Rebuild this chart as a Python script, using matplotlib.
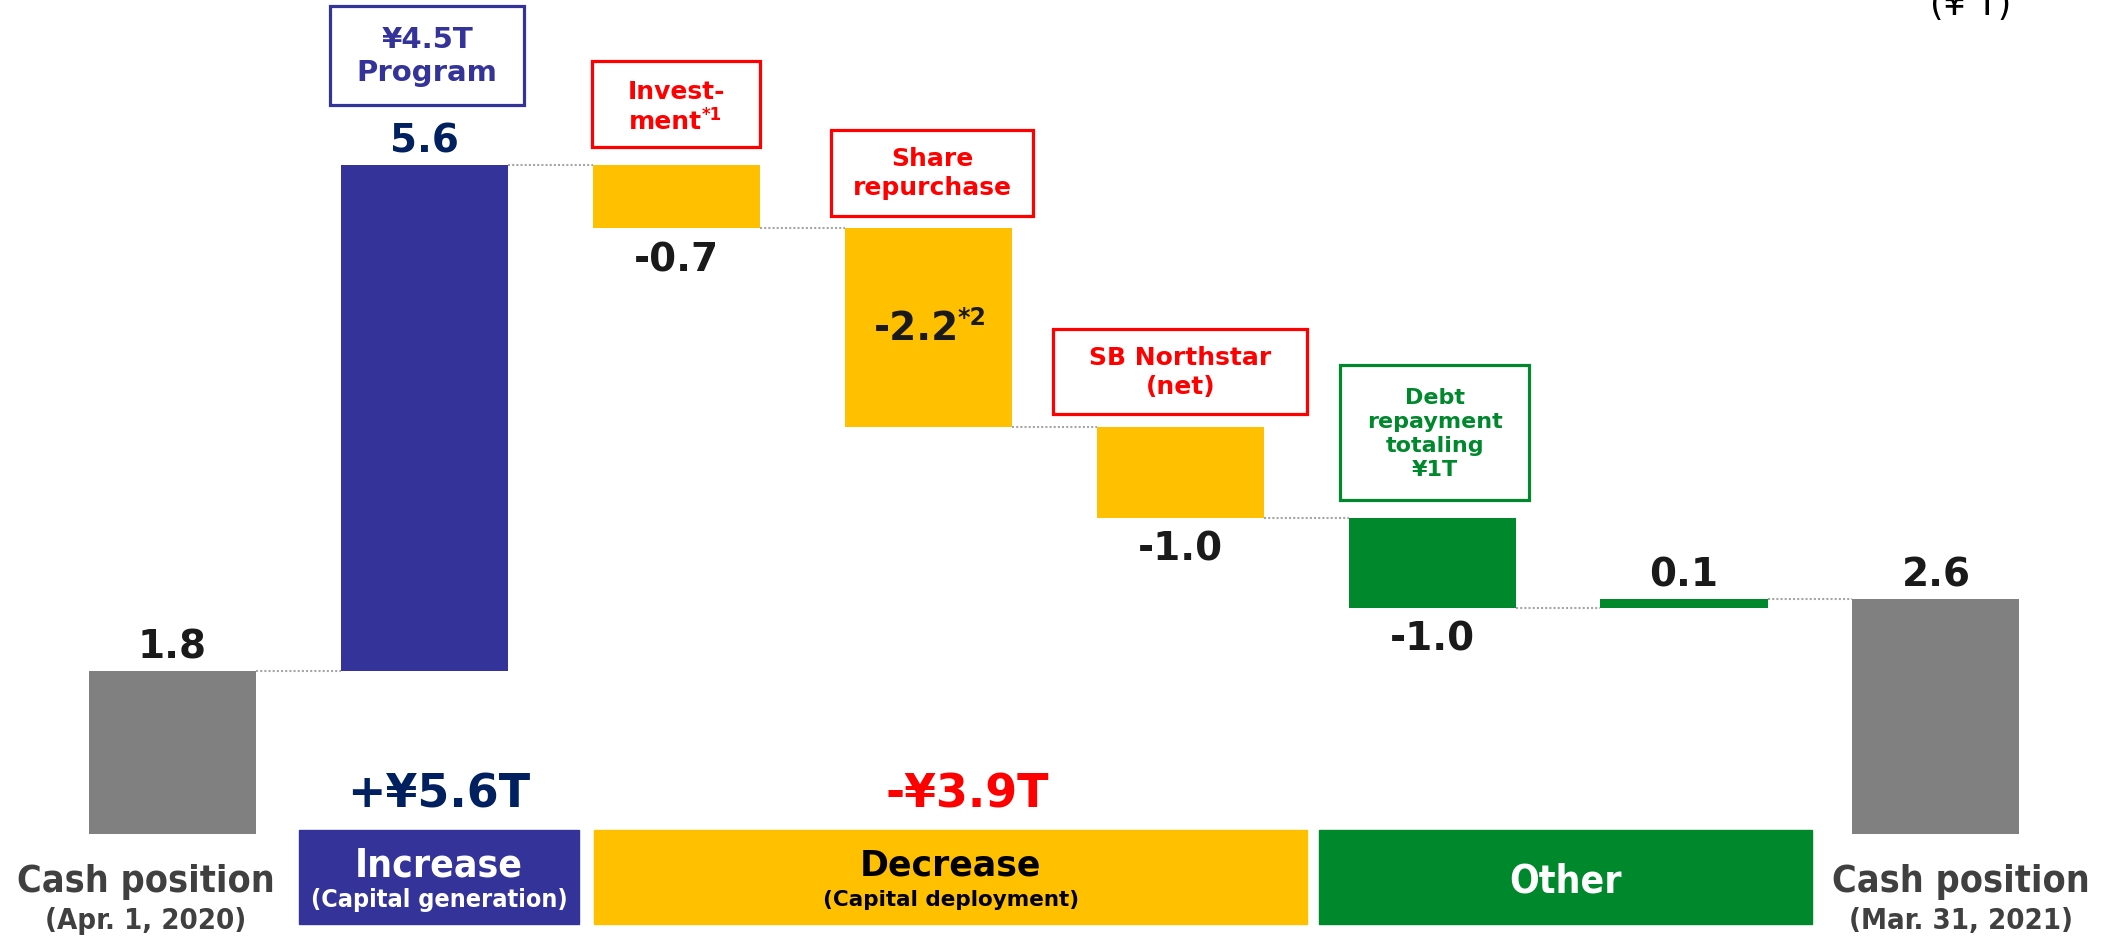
import matplotlib
matplotlib.use("Agg")
import matplotlib.pyplot as plt
from matplotlib.patches import Rectangle


# Waterfall data (¥ trillion)
steps = ["Cash position (Apr. 1, 2020)", "Capital generation", "Investment",
         "Share repurchase", "SB Northstar (net)", "Debt repayment", "Other",
         "Cash position (Mar. 31, 2021)"]
values = [1.8, 5.6, -0.7, -2.2, -1.0, -1.0, 0.1, 2.6]
value_labels = ["1.8", "5.6", "-0.7", "-2.2", "-1.0", "-1.0", "0.1", "2.6"]
is_total = [True, False, False, False, False, False, False, True]

# Group summary
groups = ["Increase", "Decrease", "Other"]
group_subtitles = ["(Capital generation)", "(Capital deployment)", ""]
group_totals = ["+¥5.6T", "-¥3.9T", ""]

# Callouts above the bars
callout_texts = ["¥4.5T\nProgram", "Invest-\nment", "Share\nrepurchase",
                 "SB Northstar\n(net)", "Debt\nrepayment\ntotaling\n¥1T"]

# Colors
GRAY = "#808080"
BLUE = "#333399"
NAVY = "#002060"
YELLOW = "#FFC000"
GREEN = "#00882D"
RED = "#FF0000"
DARK = "#1A1A1A"
bar_colors = [GRAY, BLUE, YELLOW, YELLOW, YELLOW, GREEN, GREEN, GRAY]
group_colors = [BLUE, YELLOW, GREEN]
group_text_colors = ["white", "black", "white"]
callout_colors = [BLUE, RED, RED, RED, GREEN]

COND = dict(family="DejaVu Sans", fontstretch="condensed", fontweight="bold")

fig = plt.figure(figsize=(21.12, 9.37), dpi=100)
ax = fig.add_axes([0, 0, 1, 1])
ax.set_xlim(-0.685, 7.699)
ax.set_ylim(-1.128, 9.237)
ax.axis("off")

# Bars
bar_w = 0.663
bottoms = []
heights = []
levels = []
running = 0
for v, tot in zip(values, is_total):
    if tot:
        bottoms.append(0)
        heights.append(v)
        running = v
    else:
        bottoms.append(min(running, running + v))
        heights.append(abs(v))
        running += v
    levels.append(running)

xs = list(range(len(values)))
ax.bar(xs, heights, bottom=bottoms, width=bar_w, color=bar_colors, zorder=2)

# Dotted connectors
for i in range(len(values) - 1):
    ax.plot([i + bar_w / 2, i + 1 - bar_w / 2], [levels[i], levels[i]],
            ls=(0, (1, 1)), color="#A6A6A6", lw=1.5, zorder=1)

# Value labels
for i, lab in enumerate(value_labels):
    color = NAVY if i == 1 else DARK
    top = bottoms[i] + heights[i]
    if i == 3:
        ax.text(i - 0.045, bottoms[i] + heights[i] / 2, lab, ha="center", va="center",
                fontsize=28, fontweight="bold", color=DARK)
        ax.text(i + 0.115, bottoms[i] + heights[i] / 2 + 0.12, "*2", ha="left",
                va="center", fontsize=17, fontweight="bold", color=DARK)
    elif values[i] > 0:
        ax.text(i, top + 0.27, lab, ha="center", va="center",
                fontsize=28, fontweight="bold", color=color)
    else:
        ax.text(i, bottoms[i] - 0.34, lab, ha="center", va="center",
                fontsize=28, fontweight="bold", color=color)

# Callout boxes (center x, width, bottom, height)
callout_boxes = [(1.01, 0.77, 8.06, 1.10),
                 (2.0, 0.667, 7.60, 0.95),
                 (3.015, 0.80, 6.84, 0.95),
                 (4.0, 1.01, 4.65, 0.94),
                 (5.01, 0.75, 3.69, 1.50)]
callout_sizes = [21, 18, 18, 18, 16]
for text, col, (cx, w, y0, h), fs in zip(callout_texts, callout_colors,
                                         callout_boxes, callout_sizes):
    ax.add_patch(Rectangle((cx - w / 2, y0), w, h, fill=False, edgecolor=col,
                           lw=2.3, zorder=3))
    if text.startswith("Invest"):
        ax.text(cx, y0 + h * 0.65, "Invest-", ha="center", va="center",
                fontsize=fs, fontweight="bold", color=col)
        ax.text(cx + 0.10, y0 + h * 0.30, "ment", ha="right", va="center",
                fontsize=fs, fontweight="bold", color=col)
        ax.text(cx + 0.10, y0 + h * 0.38, "*1", ha="left", va="center",
                fontsize=12, fontweight="bold", color=col)
    else:
        ax.text(cx, y0 + h / 2, text, ha="center", va="center", fontsize=fs,
                fontweight="bold", color=col, linespacing=1.25)

# Group boxes at the bottom (x start, x end)
group_spans = [(0.502, 1.614), (1.673, 4.504), (4.551, 6.508)]
for name, sub, total, col, tcol, (x0, x1) in zip(groups, group_subtitles, group_totals,
                                                 group_colors, group_text_colors, group_spans):
    ax.add_patch(Rectangle((x0, -1.0), x1 - x0, 1.05, color=col, zorder=3))
    cx = (x0 + x1) / 2
    if name == "Decrease":
        ax.text(cx, -0.34, name, ha="center", va="center", fontsize=25,
                fontweight="bold", color=tcol, zorder=4)
        ax.text(cx, -0.72, sub, ha="center", va="center", fontsize=15.5,
                fontweight="bold", color=tcol, zorder=4)
    elif sub:
        ax.text(cx, -0.34, name, ha="center", va="center", fontsize=28,
                color=tcol, zorder=4, **COND)
        ax.text(cx, -0.72, sub, ha="center", va="center", fontsize=18,
                color=tcol, zorder=4, **COND)
    else:
        ax.text(cx, -0.51, name, ha="center", va="center", fontsize=28,
                color=tcol, zorder=4, **COND)
    if total:
        tc = NAVY if total.startswith("+") else RED
        ax.text(cx + (0 if name == "Increase" else 0.065), 0.44, total,
                ha="center", va="center", fontsize=33, fontweight="bold", color=tc)

# Cash position labels under the total bars
for i in [0, len(values) - 1]:
    title, date = steps[i].split(" (")
    ax.text(i - 0.105 if i == 0 else i + 0.1, -0.52, title, ha="center", va="center",
            fontsize=27, color="#404040", **COND)
    ax.text(i - 0.105 if i == 0 else i + 0.1, -0.95, "(" + date, ha="center",
            va="center", fontsize=21, color="#404040", **COND)

# Unit
fig.text(0.933, 1 - 15 / 937, "(¥ T)", ha="center", va="baseline",
         fontsize=25, color="black")

fig.savefig("out.png", dpi=100)
